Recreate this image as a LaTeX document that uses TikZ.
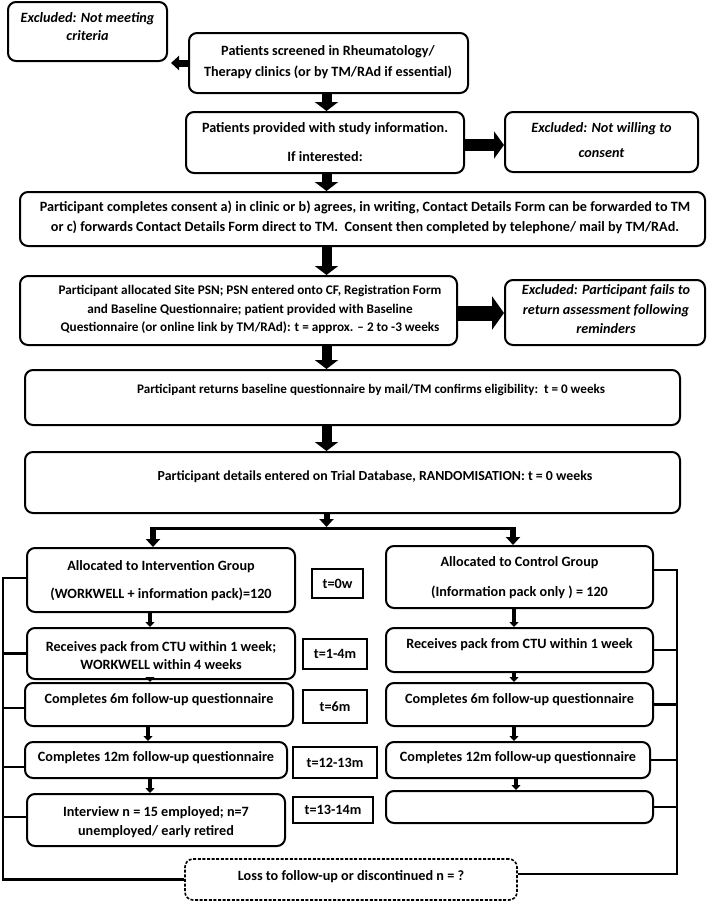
\documentclass[tikz,border=0pt]{standalone}
\usepackage{fontspec}
\setmainfont{Carlito}
\usetikzlibrary{arrows.meta,calc}
\newcommand\figfont[1]{\fontsize{14.2}{#1}\selectfont\bfseries}
\newcommand\figfontsz[2]{\fontsize{#1}{#2}\selectfont\bfseries}
\begin{document}
\begin{tikzpicture}[x=1pt,y=-1pt,
  box/.style={draw, line width=2pt, rounded corners=8pt, inner sep=0pt},
  dbox/.style={box, line width=1.6pt, dash pattern=on 3pt off 1.6pt},
  tbox/.style={draw, line width=1.6pt, inner sep=0pt, font=\figfont{18}},
  txt/.style={align=center, inner sep=0pt, font=\figfont{#1}},
  txt/.default=18,
  stxt/.style={align=center, inner sep=0pt, font=\figfontsz{#1}{18}},
  etxt/.style={align=center, inner sep=0pt, font=\figfont{#1}\itshape},
  bigv/.style={line width=10pt, -{Triangle[length=9pt,width=23pt]}},
  larr/.style={line width=7pt, -{Triangle[length=8pt,width=14pt]}},
  rarr/.style={line width=12pt, -{Triangle[length=10pt,width=27pt]}},
  rarrb/.style={line width=15pt, -{Triangle[length=12pt,width=33pt]}},
  medarr/.style={line width=6pt, -{Triangle[length=8pt,width=14pt]}},
  smallarr/.style={line width=3.5pt, -{Triangle[length=5pt,width=9pt]}},
  bracket/.style={line width=2.6pt},
  splitline/.style={line width=3pt}
]
\useasboundingbox[fill=white] (0,0) rectangle (709,902);

% top boxes
\node[box, minimum width=159pt, minimum height=59pt] (exc1) at (87.5,31.5) {};
\node[etxt=17.5] (exc1t) at (87.5,26.5) {Excluded: Not meeting\\criteria};
\node[box, minimum width=279pt, minimum height=60pt] (scr) at (328.5,63) {};
\node[txt=21] (scrt) at (328,62.5) {Patients screened in Rheumatology/\\Therapy clinics (or by TM/RAd if essential)};
\node[box, minimum width=278pt, minimum height=61pt] (prov) at (325,142.5) {};
\node[txt=29] (provt) at (325,142.5) {Patients provided with study information.\\If interested:};
\node[box, minimum width=193pt, minimum height=60pt] (exc2) at (601.5,142) {};
\node[etxt=25] (exc2t) at (601.5,140.5) {Excluded: Not willing to\\consent};
\node[box, minimum width=685pt, minimum height=54pt] (cons) at (362.5,219) {};
\node[txt=20] (const) at (365,217) {Participant completes consent a) in clinic or b) agrees, in writing, Contact Details Form can be forwarded to TM\\or c) forwards Contact Details Form direct to TM.\ \ Consent then completed by telephone/ mail by TM/RAd.};
\node[box, minimum width=437pt, minimum height=69pt] (alloc) at (238.5,310.5) {};
\node[align=center, inner sep=0pt, font=\figfontsz{13.2}{18.5}] (alloct) at (250,309.5) {Participant allocated Site PSN; PSN entered onto CF, Registration Form\\and Baseline Questionnaire; patient provided with Baseline\\Questionnaire (or online link by TM/RAd): t = approx. -- 2 to -3 weeks};
\node[box, minimum width=200pt, minimum height=65pt] (exc3) at (605,312.5) {};
\node[etxt=19.5] (exc3t) at (606,309.5) {Excluded: Participant fails to\\return assessment following\\reminders};
\node[box, minimum width=655pt, minimum height=55pt] (ret) at (352.5,397.5) {};
\node[stxt=13.1] (rett) at (371,390) {Participant returns baseline questionnaire by mail/TM confirms eligibility:\ \ t = 0 weeks};
\node[box, minimum width=655pt, minimum height=61pt] (det) at (352.5,482.5) {};
\node[stxt=13.85] (dett) at (375,477) {Participant details entered on Trial Database, RANDOMISATION: t = 0 weeks};

% intervention column
\node[box, minimum width=268pt, minimum height=64pt] (int) at (161,580) {};
\node[txt=28] (intt) at (161,581) {Allocated to Intervention Group\\(WORKWELL + information pack)=120};
\node[box, minimum width=268pt, minimum height=51pt] (irec) at (161,653.5) {};
\node[txt=18] (irect) at (161,656) {Receives pack from CTU within 1 week;\\WORKWELL within 4 weeks};
\node[box, minimum width=268pt, minimum height=43pt] (i6) at (159,704.5) {};
\node[txt] (i6t) at (159,700) {Completes 6m follow-up questionnaire};
\node[box, minimum width=262pt, minimum height=36pt] (i12) at (156,760) {};
\node[txt] (i12t) at (156,758) {Completes 12m follow-up questionnaire};
\node[box, minimum width=258pt, minimum height=52pt] (iint) at (156,820) {};
\node[txt=19] (iintt) at (156,822.5) {Interview n = 15 employed; n=7\\unemployed/ early retired};

% time boxes
\node[tbox, minimum width=51pt, minimum height=29pt] (t0) at (337.5,583.5) {t=0w};
\node[tbox, minimum width=64pt, minimum height=30pt] (t1) at (335,654) {t=1-4m};
\node[tbox, minimum width=64pt, minimum height=33pt] (t6) at (335,706.5) {t=6m};
\node[tbox, minimum width=84pt, minimum height=31pt] (t12) at (335,762.5) {t=12-13m};
\node[tbox, minimum width=80pt, minimum height=26pt] (t13) at (333,810) {t=13-14m};

% control column
\node[box, minimum width=267pt, minimum height=62pt] (ctl) at (519.5,577) {};
\node[txt=30] (ctlt) at (519.5,578) {Allocated to Control Group\\(Information pack only ) = 120};
\node[box, minimum width=267pt, minimum height=44pt] (crec) at (519.5,650) {};
\node[txt] (crect) at (519.5,645) {Receives pack from CTU within 1 week};
\node[box, minimum width=267pt, minimum height=43pt] (c6) at (519.5,704.5) {};
\node[txt] (c6t) at (519.5,700) {Completes 6m follow-up questionnaire};
\node[box, minimum width=264pt, minimum height=36pt] (c12) at (518,760) {};
\node[txt] (c12t) at (518,758) {Completes 12m follow-up questionnaire};
\node[box, minimum width=267pt, minimum height=32pt] (cemp) at (519.5,807) {};

% loss box
\node[dbox, minimum width=332pt, minimum height=41pt] (loss) at (351,879.5) {};
\node[txt] (losst) at (351,877) {Loss to follow-up or discontinued n = ?};

% coordinates
\coordinate (sl) at (153,528);
\coordinate (sr) at (513,528);
\coordinate (lx) at (150,0);
\coordinate (rx) at (514,0);
\coordinate (L) at (3,0);
\coordinate (R) at (677,0);
\coordinate (mx) at (326.5,0);

% top arrows
\draw[larr] (scr.west) -- ([xshift=3pt]scr.west -| exc1.east);
\draw[bigv] (mx |- scr.south) -- (mx |- prov.north);
\draw[rarr] ([yshift=-2.5pt]prov.east) -- ([yshift=-2.5pt]prov.east -| exc2.west);
\draw[bigv] (mx |- prov.south) -- (mx |- cons.north);
\draw[bigv] (mx |- cons.south) -- (mx |- alloc.north);
\draw[rarrb] ([yshift=-2.5pt]alloc.east) -- ([yshift=-2.5pt]alloc.east -| exc3.west);
\draw[bigv] (mx |- alloc.south) -- (mx |- ret.north);
\draw[bigv] (mx |- ret.south) -- (mx |- det.north);

% split
\draw[medarr] (mx |- det.south) -- ([yshift=1pt]mx |- sl);
\draw[splitline] (sl) -- (sr);
\draw[medarr] ([yshift=1.5pt]sl) -- (sl |- int.north);
\draw[medarr] ([yshift=1.5pt]sr) -- (sr |- ctl.north);

% column arrows
\draw[smallarr] (lx |- int.south) -- (lx |- irec.north);
\draw[smallarr] (lx |- irec.south) -- (lx |- i6.north);
\draw[smallarr] ([xshift=-2pt]lx |- i6.south) -- ([xshift=-2pt]lx |- i12.north);
\draw[smallarr] (lx |- i12.south) -- (lx |- iint.north);
\draw[smallarr] (rx |- ctl.south) -- (rx |- crec.north);
\draw[smallarr] (rx |- crec.south) -- (rx |- c6.north);
\draw[smallarr] (rx |- c6.south) -- (rx |- c12.north);
\draw[smallarr] ([xshift=2pt]rx |- c12.south) -- ([xshift=2pt]rx |- cemp.north);

% left bracket
\draw[bracket] ([yshift=2pt]int.west) -- ([yshift=2pt]int.west -| L) -- (L |- loss.west) -- (loss.west);
\draw[bracket] (irec.west) -- (irec.west -| L);
\draw[bracket] ([yshift=-3.5pt]i6.west) -- ([yshift=-3.5pt]i6.west -| L);
\draw[bracket] ([yshift=-7pt]i12.west) -- ([yshift=-7pt]i12.west -| L);
\draw[bracket] ([yshift=3pt]iint.west) -- ([yshift=3pt]iint.west -| L);

% right bracket
\draw[bracket] ([yshift=7pt]ctl.east) -- ([yshift=7pt]ctl.east -| R) -- ([yshift=5.5pt]R |- loss.east) -- ([yshift=5.5pt]loss.east);
\draw[bracket] (crec.east) -- (crec.east -| R);
\draw[bracket] (c6.east) -- (c6.east -| R);
\draw[bracket] (c12.east) -- (c12.east -| R);
\draw[bracket] (cemp.east) -- (cemp.east -| R);
\end{tikzpicture}
\end{document}
